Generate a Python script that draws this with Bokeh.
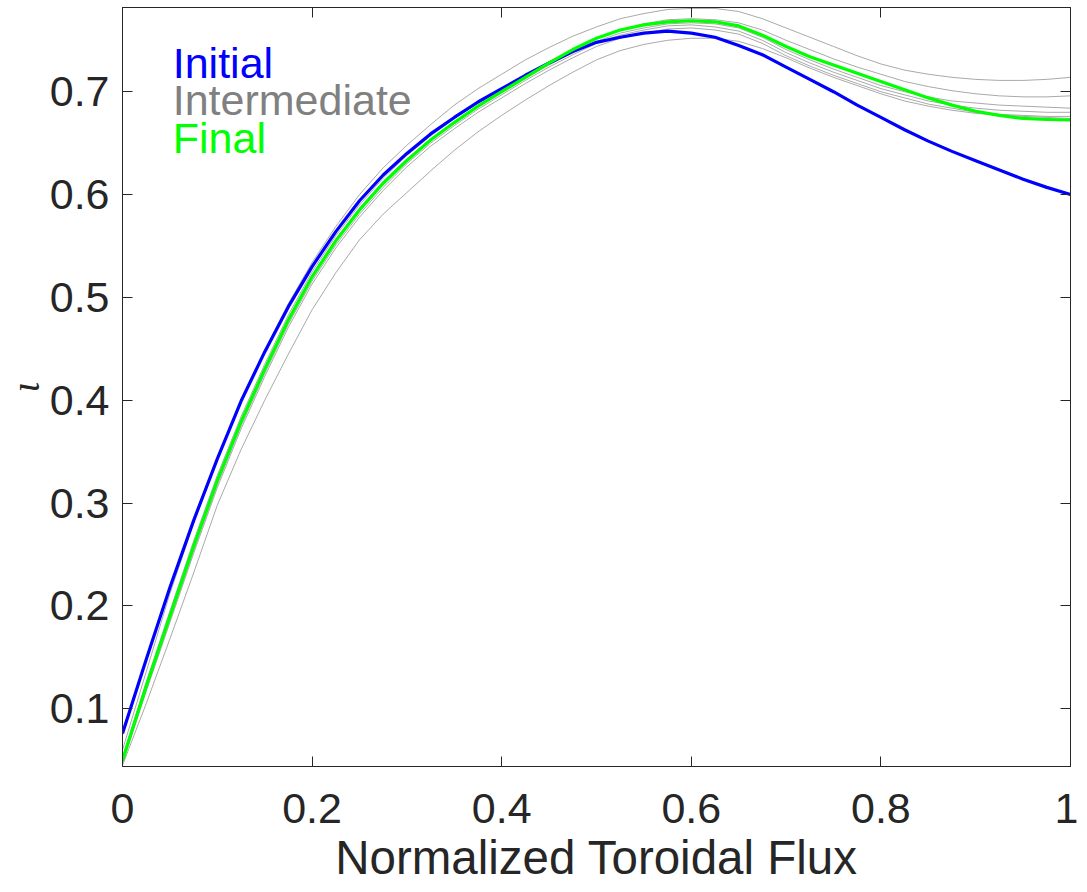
from bokeh.plotting import figure
from bokeh.models import Range1d, LinearAxis, FixedTicker, Label
from bokeh.embed import file_html
from bokeh.resources import INLINE

# ---- data ----
flux = [0.000, 0.025, 0.050, 0.075, 0.100, 0.125, 0.150, 0.175, 0.200, 0.225,
        0.250, 0.275, 0.300, 0.325, 0.350, 0.375, 0.400, 0.425, 0.450, 0.475,
        0.500, 0.525, 0.550, 0.575, 0.600, 0.625, 0.650, 0.675, 0.700, 0.725,
        0.750, 0.775, 0.800, 0.825, 0.850, 0.875, 0.900, 0.925, 0.950, 0.975,
        1.000]

iota_initial = [0.076, 0.148, 0.218, 0.283, 0.343, 0.399, 0.447, 0.491, 0.530, 0.564,
                0.594, 0.619, 0.640, 0.659, 0.675, 0.690, 0.703, 0.716, 0.728, 0.739,
                0.748, 0.753, 0.757, 0.759, 0.757, 0.753, 0.745, 0.736, 0.724, 0.712,
                0.700, 0.687, 0.675, 0.663, 0.652, 0.642, 0.633, 0.624, 0.615, 0.607,
                0.600]
iota_final = [0.050, 0.122, 0.190, 0.258, 0.322, 0.379, 0.430, 0.478, 0.520, 0.555,
              0.585, 0.611, 0.633, 0.653, 0.670, 0.686, 0.700, 0.714, 0.728, 0.741,
              0.752, 0.760, 0.765, 0.768, 0.769, 0.768, 0.764, 0.755, 0.744, 0.734,
              0.726, 0.718, 0.710, 0.702, 0.694, 0.687, 0.681, 0.677, 0.674, 0.673,
              0.6725]
iota_inter_1 = [0.060, 0.136, 0.212, 0.280, 0.342, 0.399, 0.449, 0.494, 0.534, 0.569,
                0.600, 0.626, 0.648, 0.668, 0.687, 0.703, 0.717, 0.731, 0.743, 0.754,
                0.763, 0.771, 0.776, 0.780, 0.781, 0.781, 0.778, 0.771, 0.762, 0.753,
                0.744, 0.735, 0.727, 0.721, 0.717, 0.714, 0.712, 0.711, 0.711, 0.712,
                0.714]
iota_inter_2 = [0.053, 0.126, 0.195, 0.263, 0.327, 0.384, 0.435, 0.483, 0.525, 0.560,
                0.590, 0.616, 0.638, 0.657, 0.674, 0.689, 0.703, 0.716, 0.729, 0.741,
                0.752, 0.760, 0.766, 0.770, 0.771, 0.770, 0.767, 0.760, 0.750, 0.741,
                0.732, 0.724, 0.717, 0.710, 0.705, 0.701, 0.698, 0.696, 0.695, 0.695,
                0.696]
iota_inter_3 = [0.052, 0.124, 0.193, 0.260, 0.324, 0.381, 0.432, 0.480, 0.522, 0.557,
                0.587, 0.613, 0.635, 0.654, 0.671, 0.686, 0.700, 0.713, 0.726, 0.738,
                0.749, 0.757, 0.762, 0.766, 0.767, 0.766, 0.762, 0.753, 0.741, 0.731,
                0.722, 0.714, 0.706, 0.700, 0.695, 0.691, 0.689, 0.687, 0.686, 0.685,
                0.684]
iota_inter_4 = [0.048, 0.119, 0.187, 0.254, 0.318, 0.375, 0.426, 0.474, 0.516, 0.551,
                0.581, 0.607, 0.630, 0.650, 0.667, 0.683, 0.697, 0.711, 0.724, 0.736,
                0.747, 0.755, 0.760, 0.764, 0.765, 0.763, 0.759, 0.750, 0.738, 0.728,
                0.719, 0.711, 0.703, 0.697, 0.691, 0.687, 0.684, 0.682, 0.681, 0.680,
                0.680]
iota_inter_5 = [0.047, 0.117, 0.184, 0.251, 0.315, 0.372, 0.423, 0.471, 0.513, 0.548,
                0.578, 0.604, 0.627, 0.647, 0.664, 0.680, 0.694, 0.708, 0.721, 0.733,
                0.744, 0.752, 0.757, 0.761, 0.762, 0.760, 0.756, 0.747, 0.735, 0.725,
                0.716, 0.708, 0.700, 0.694, 0.688, 0.684, 0.680, 0.678, 0.677, 0.676,
                0.676]
iota_inter_6 = [0.045, 0.105, 0.168, 0.232, 0.298, 0.352, 0.400, 0.445, 0.488, 0.524,
                0.556, 0.581, 0.602, 0.623, 0.643, 0.661, 0.677, 0.692, 0.706, 0.719,
                0.731, 0.740, 0.746, 0.750, 0.752, 0.752, 0.749, 0.742, 0.733, 0.723,
                0.714, 0.706, 0.698, 0.691, 0.686, 0.682, 0.679, 0.677, 0.676, 0.675,
                0.674]

x_ticks = [0, 0.2, 0.4, 0.6, 0.8, 1.0]
x_tick_labels = ["0", "0.2", "0.4", "0.6", "0.8", "1"]
y_ticks = [0.1, 0.2, 0.3, 0.4, 0.5, 0.6, 0.7]
y_tick_labels = ["0.1", "0.2", "0.3", "0.4", "0.5", "0.6", "0.7"]
legend_labels = ["Initial", "Intermediate", "Final"]
x_title = "Normalized Toroidal Flux"
y_title = "\u03b9"

# ---- styling ----
AX = "#262626"
FONT = "Liberation Sans"
TICK_FS = "43px"
TITLE_FS = "47.5px"

p = figure(frame_width=948, frame_height=759, output_backend="svg", toolbar_location=None,
           x_range=Range1d(0, 1), y_range=Range1d(0.0439, 0.7819),
           x_axis_location=None, y_axis_location=None,
           min_border_left=121, min_border_right=8, min_border_top=7, min_border_bottom=0)
p.background_fill_color = "white"
p.border_fill_color = "white"
p.outline_line_color = AX
p.outline_line_width = 1
p.xgrid.visible = False
p.ygrid.visible = False


def style_axis(ax, ticks, labels=None):
    ax.axis_line_color = AX
    ax.axis_line_width = 1
    ax.major_tick_line_color = AX
    ax.major_tick_in = 10
    ax.major_tick_out = 0
    ax.minor_tick_line_color = None
    ax.major_label_text_font = FONT
    ax.major_label_text_color = AX
    if labels is not None:
        ax.major_label_overrides = {t: l for t, l in zip(ticks, labels)}
        ax.major_label_text_font_size = TICK_FS
    else:
        ax.major_label_overrides = {t: "" for t in ticks}
        ax.major_label_text_font_size = "1px"
        ax.major_label_standoff = 0


xb = LinearAxis(ticker=FixedTicker(ticks=x_ticks))
style_axis(xb, x_ticks, x_tick_labels)
xb.major_label_standoff = 27
xb.axis_label = x_title
xb.axis_label_text_font = FONT
xb.axis_label_text_font_size = TITLE_FS
xb.axis_label_text_font_style = "normal"
xb.axis_label_text_color = AX
xb.axis_label_standoff = 5
p.add_layout(xb, "below")

yl = LinearAxis(ticker=FixedTicker(ticks=y_ticks))
style_axis(yl, y_ticks, y_tick_labels)
yl.major_label_standoff = 13
yl.axis_label = y_title
yl.axis_label_text_font = "Liberation Serif"
yl.axis_label_text_font_style = "italic"
yl.axis_label_text_font_size = "39px"
yl.axis_label_text_color = AX
yl.axis_label_standoff = 0
p.add_layout(yl, "left")

xt = LinearAxis(ticker=FixedTicker(ticks=x_ticks))
style_axis(xt, x_ticks)
p.add_layout(xt, "above")

yr = LinearAxis(ticker=FixedTicker(ticks=y_ticks))
style_axis(yr, y_ticks)
p.add_layout(yr, "right")

# ---- lines ----
for series in [iota_inter_1, iota_inter_2, iota_inter_3, iota_inter_4, iota_inter_5, iota_inter_6]:
    p.line(flux, series, line_color="#808080", line_width=0.8, line_alpha=0.85, line_join="round")
p.line(flux, iota_initial, line_color="#0000ff", line_width=3.2, line_join="round")
p.line(flux, iota_final, line_color="#00ff00", line_width=3.2, line_join="round")

# ---- colored text legend ----
legend_colors = ["#0000ff", "#808080", "#00ff00"]
legend_y = [0.7282, 0.6919, 0.6549]
for txt, col, yy in zip(legend_labels, legend_colors, legend_y):
    p.add_layout(Label(x=0.053, y=yy, text=txt, text_color=col, text_font=FONT,
                       text_font_size=TICK_FS, text_baseline="alphabetic", text_align="left"))

open("out.html", "w").write(file_html(p, INLINE))
